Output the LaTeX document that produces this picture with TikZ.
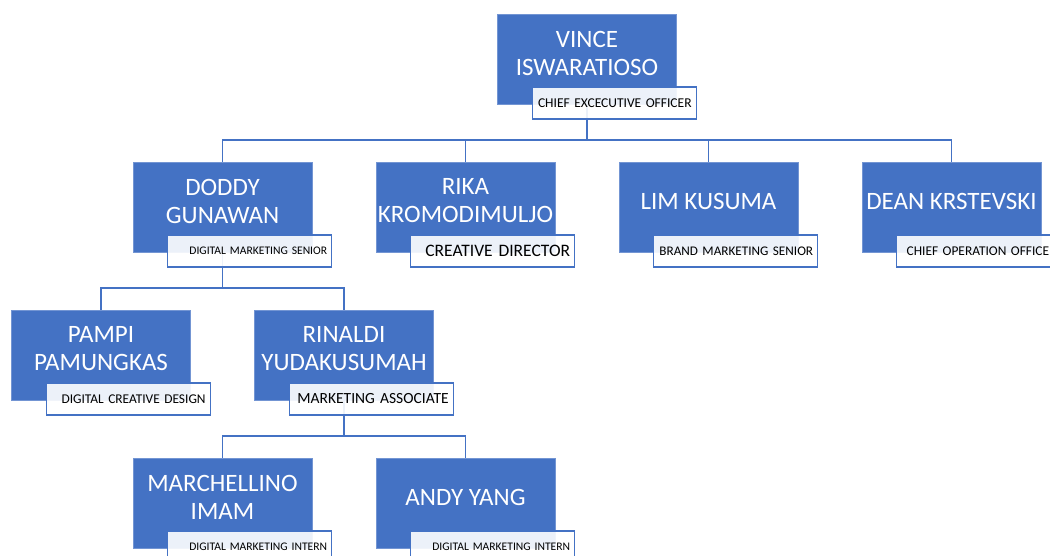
\documentclass[tikz,border=0pt]{standalone}
\usepackage{fontspec}
\setmainfont{Carlito}
\usetikzlibrary{trees}
\definecolor{orgblue}{HTML}{4472C4}

\begin{document}
\begin{tikzpicture}[
      level distance=148pt,
      sibling distance=243pt,
      person/.style={rectangle, fill=orgblue, draw=orgblue!75!white, line width=0.6pt,
        minimum width=179pt, minimum height=90pt, inner sep=0pt,
        label={[name text]center:#1}},
      name text/.style={text=white, align=center, yshift=6pt,
        font=\fontsize{25}{28}\selectfont},
      role/.style={rectangle, draw=orgblue, line width=1.3pt, fill=white,
        fill opacity=0.9, text opacity=1, text=black, anchor=north east,
        minimum height=32pt, text width=155pt, align=right,
        inner xsep=4.5pt, inner ysep=0pt},
      edge from parent/.style={draw=orgblue, line width=1.8pt},
      edge from parent path={(\tikzparentnode.south) -- ++(0pt,-36pt) -| (\tikzchildnode.north)}
    ]
    \useasboundingbox (0,0) rectangle (1050pt,-556pt);
    \clip (0,0) rectangle (1050pt,-556pt);
    % bagan organisasi
    \node[person={VINCE\\ISWARATIOSO}] (vince) at (587pt,-59pt) {}
    child {
      node[person={DODDY\\GUNAWAN}] (doddy) {}
      child { node[person={PAMPI\\PAMUNGKAS}] (pampi) {} }
      child { node[person={RINALDI\\YUDAKUSUMAH}] (rinaldi) {}
        child { node[person={MARCHELLINO\\IMAM}] (marchellino) {} }
        child { node[person={ANDY YANG}] (andy) {} }
      }
    }
    child { node[person={RIKA\\KROMODIMULJO}] (rika) {} }
    child { node[person={LIM KUSUMA}] (lim) {} }
    child { node[person={DEAN KRSTEVSKI}] (dean) {} };

    % jabatan
    \node[role, font=\fontsize{13.5}{15}\selectfont] (vince-role) at ([shift={(20pt,18pt)}]vince.south east) {CHIEF EXCECUTIVE OFFICER};
    \node[role, font=\fontsize{11.6}{13}\selectfont] (doddy-role) at ([shift={(20pt,18pt)}]doddy.south east) {DIGITAL MARKETING SENIOR};
    \node[role, font=\fontsize{17.5}{19}\selectfont] (rika-role) at ([shift={(20pt,18pt)}]rika.south east) {CREATIVE DIRECTOR};
    \node[role, font=\fontsize{13.2}{15}\selectfont] (lim-role) at ([shift={(20pt,18pt)}]lim.south east) {BRAND MARKETING SENIOR};
    \node[role, font=\fontsize{13.4}{15}\selectfont, align=left, inner xsep=10pt, text width=144pt] (dean-role) at ([shift={(20pt,18pt)}]dean.south east) {CHIEF OPERATION OFFICE};
    \node[role, font=\fontsize{13.4}{15}\selectfont] (pampi-role) at ([shift={(20pt,18pt)}]pampi.south east) {DIGITAL CREATIVE DESIGN};
    \node[role, font=\fontsize{15.5}{17}\selectfont] (rinaldi-role) at ([shift={(20pt,18pt)}]rinaldi.south east) {MARKETING ASSOCIATE};
    \node[role, font=\fontsize{11.6}{13}\selectfont] (marchellino-role) at ([shift={(20pt,18pt)}]marchellino.south east) {DIGITAL MARKETING INTERN};
    \node[role, font=\fontsize{11.6}{13}\selectfont] (andy-role) at ([shift={(20pt,18pt)}]andy.south east) {DIGITAL MARKETING INTERN};
  \end{tikzpicture}
\end{document}
